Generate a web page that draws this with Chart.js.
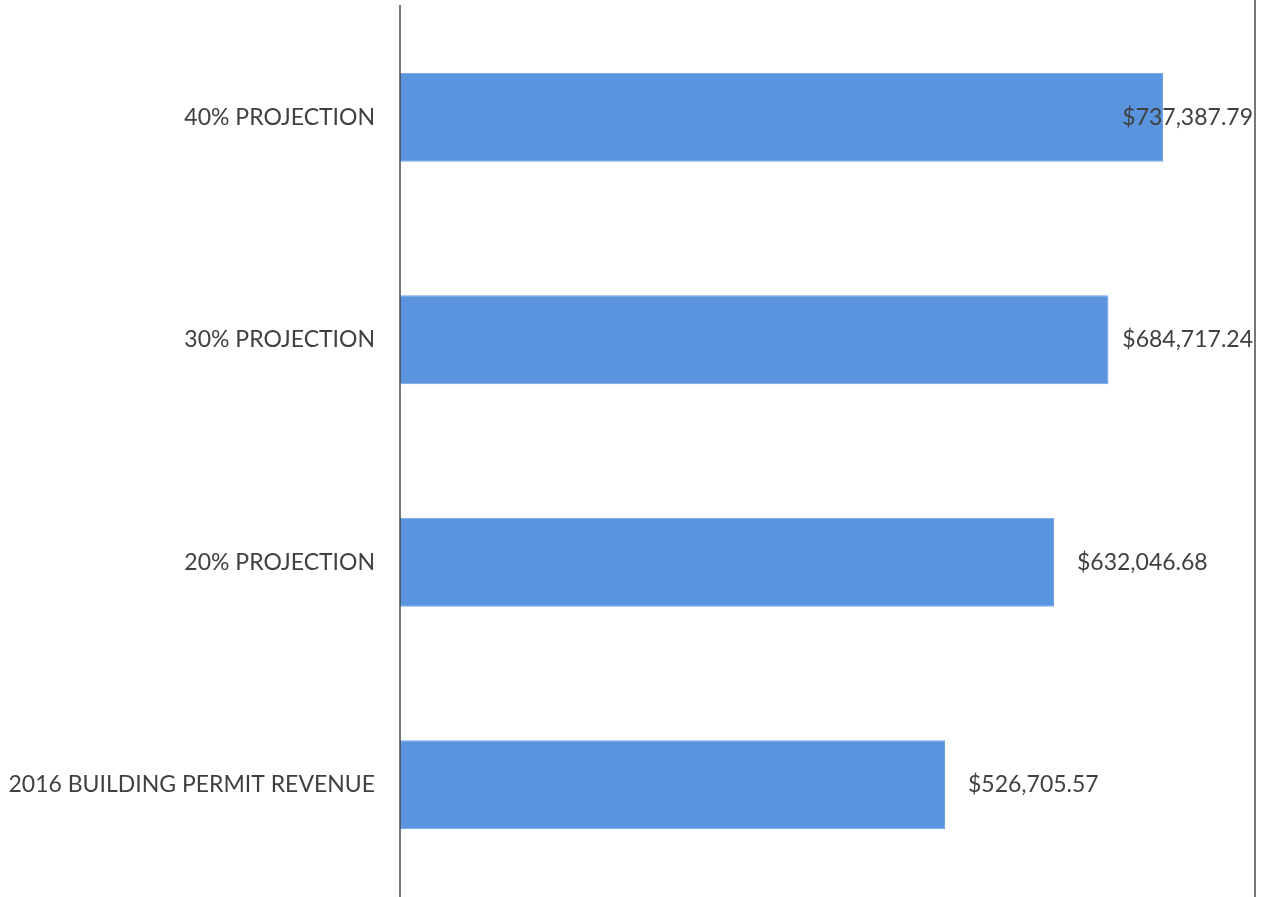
<!DOCTYPE html>
<html>
<head>
<meta charset="utf-8">
<script src="https://cdn.jsdelivr.net/npm/chart.js@4.4.1/dist/chart.umd.min.js"></script>
<style>
  html, body { margin: 0; padding: 0; background: #fff; }
  #wrap { width: 1266px; height: 897px; }
</style>
</head>
<body>
<div id="wrap"><canvas id="chart"></canvas></div>
<script>
// data
var categories = ["40% PROJECTION", "30% PROJECTION", "20% PROJECTION", "2016 BUILDING PERMIT REVENUE"];
var revenue = [737387.79, 684717.24, 632046.68, 526705.57];
var xMax = 826300;

var textFont = "Lato, 'Open Sans', sans-serif";

function money(v) {
    return "$" + v.toLocaleString("en-US", { minimumFractionDigits: 2, maximumFractionDigits: 2 });
}

// value labels after each bar, pushed back inside the frame when they don't fit
var valueLabels = {
    id: "valueLabels",
    afterDatasetsDraw: function(chart) {
        var ctx = chart.ctx;
        var meta = chart.getDatasetMeta(0);
        var right = chart.chartArea.right - 2;
        ctx.save();
        ctx.font = "23px " + textFont;
        ctx.fillStyle = "#404040";
        ctx.textBaseline = "middle";
        meta.data.forEach(function(bar, i) {
            var txt = money(revenue[i]);
            var w = ctx.measureText(txt).width;
            var x = Math.min(bar.x + 23, right - w);
            ctx.fillText(txt, x, bar.y);
        });
        ctx.restore();
    }
};

// left axis line and right frame line
var frame = {
    id: "frame",
    afterDraw: function(chart) {
        var ctx = chart.ctx;
        var a = chart.chartArea;
        ctx.save();
        ctx.strokeStyle = "#4a4a4a";
        ctx.lineWidth = 1.5;
        ctx.beginPath();
        ctx.moveTo(a.left, 5);
        ctx.lineTo(a.left, chart.height);
        ctx.moveTo(a.right, 0);
        ctx.lineTo(a.right, chart.height);
        ctx.stroke();
        ctx.restore();
    }
};

var ctx = document.getElementById("chart");
var chart = new Chart(ctx, {
    type: "bar",
    data: {
        labels: categories,
        datasets: [{
            data: revenue,
            backgroundColor: "rgba(90, 147, 222, 1)",
            borderColor: "rgba(112, 163, 230, 1)",
            borderWidth: 1,
            categoryPercentage: 1,
            barPercentage: 0.4
        }]
    },
    options: {
        indexAxis: "y",
        responsive: true,
        maintainAspectRatio: false,
        animation: false,
        layout: {
            padding: { top: 6, right: 11, bottom: 1, left: 0 }
        },
        plugins: {
            legend: { display: false },
            tooltip: { enabled: false }
        },
        scales: {
            x: {
                display: false,
                min: 0,
                max: xMax
            },
            y: {
                afterFit: function(scale) {
                    scale.width = 400;
                    scale.paddingTop = 0;
                    scale.paddingBottom = 0;
                },
                grid: { display: false, drawTicks: false },
                border: { display: false },
                ticks: {
                    padding: 25,
                    color: "#404040",
                    font: { family: textFont, size: 23 }
                }
            }
        }
    },
    plugins: [valueLabels, frame]
});
</script>
</body>
</html>
